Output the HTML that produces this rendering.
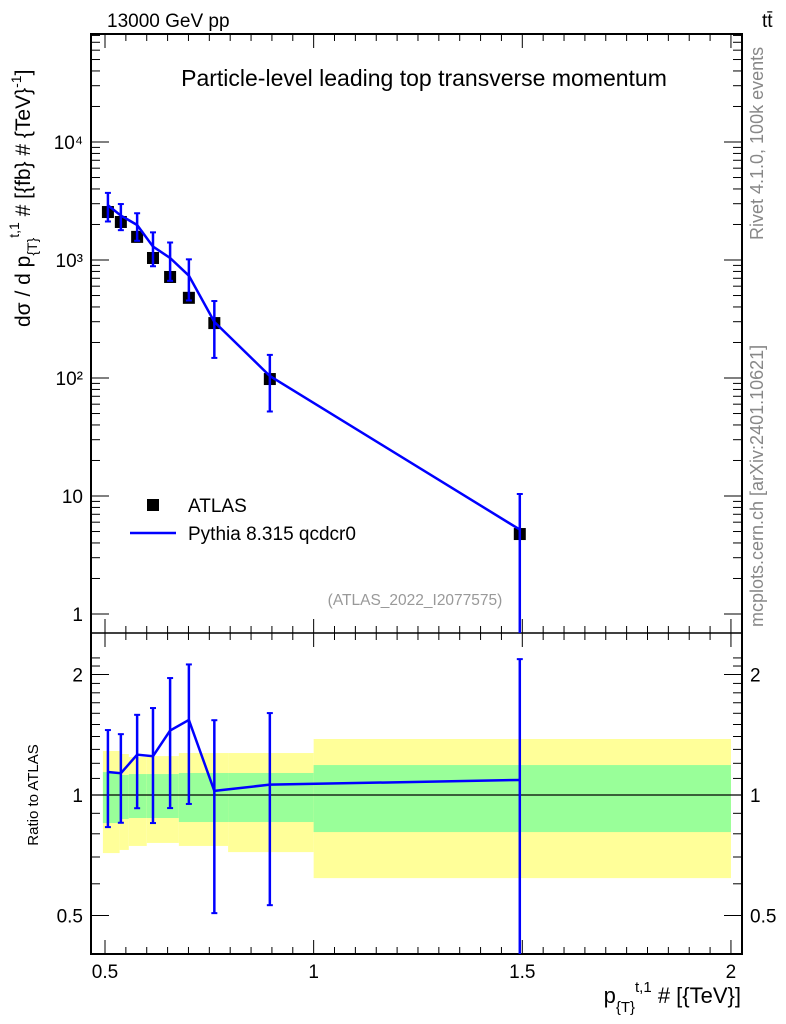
<!DOCTYPE html>
<html><head><meta charset="utf-8"><style>
body{margin:0;background:#fff;}
svg{display:block;font-family:"Liberation Sans",sans-serif;}
</style></head><body>
<svg id="chart" width="786" height="1024" viewBox="0 0 786 1024" xmlns="http://www.w3.org/2000/svg">
<g id="bands"></g>
<g id="axes"></g>
<g id="series"></g>
<text x="107" y="27" font-size="19">13000 GeV pp</text>
<text x="762" y="27" font-size="19">tt̄</text>
<text x="424" y="86" font-size="23" text-anchor="middle">Particle-level leading top transverse momentum</text>
<text transform="translate(763,240) rotate(-90)" font-size="18" fill="#888">Rivet 4.1.0,  100k events</text>
<text transform="translate(763,627) rotate(-90)" font-size="18" fill="#888">mcplots.cern.ch [arXiv:2401.10621]</text>
<text x="415" y="605" font-size="15.5" fill="#999" text-anchor="middle">(ATLAS_2022_I2077575)</text>
<text transform="translate(30,327) rotate(-90)" font-size="21" text-anchor="start">dσ / d p<tspan font-size="14" dy="7">{T}</tspan><tspan font-size="14" dy="-18">t,1</tspan><tspan dy="11"> # [{fb} # {TeV}</tspan><tspan font-size="14" dy="-9">-1</tspan><tspan dy="9">]</tspan></text>
<text transform="translate(38,795) rotate(-90)" font-size="15" text-anchor="middle">Ratio to ATLAS</text>
<text x="741" y="1003" font-size="22" text-anchor="end">p<tspan font-size="15" dy="9">{T}</tspan><tspan font-size="15" dy="-20">t,1</tspan><tspan dy="11"> # [{TeV}]</tspan></text>
<g>
<rect x="147" y="499" width="12" height="12" fill="#000"/>
<text x="188" y="512" font-size="19">ATLAS</text>
<line x1="130" y1="533" x2="176" y2="533" stroke="#0000ff" stroke-width="2.5"/>
<text x="188" y="540" font-size="19">Pythia 8.315 qcdcr0</text>
</g>
</svg>
<script>
const xCenters=[0.507,0.538,0.577,0.615,0.656,0.701,0.762,0.895,1.494];
const atlasVals=[2550,2100,1570,1040,718,478,292,98,4.76];
const mcVals=[2910,2380,1980,1300,1040,736,299,104,5.19];
const mcUp=[3705,2980,2490,1715,1407,1013,449,157,10.4];
const mcDown=[2120,1790,1455,885,666,454,148,52,0.0001];
const bandEdges=[0.495,0.535,0.557,0.6,0.677,0.795,1.0,2.0];
const yellowHi=[1.288,1.266,1.244,1.251,1.273,1.273,1.38];
const yellowLo=[0.716,0.729,0.746,0.759,0.746,0.72,0.62];
const greenHi=[1.141,1.122,1.128,1.128,1.135,1.135,1.188];
const greenLo=[0.851,0.871,0.876,0.876,0.856,0.856,0.808];
const xTicks=[0.5,1,1.5,2];
const yTicks=[1,10,100,1000,10000];
const yTickLabels=["1","10","10²","10³","10⁴"];
const rTicks=[0.5,1,2];

const L=91,R=742,T=34,M=633,B=954;
const X=v=>105+(v-0.5)*417.3;
const Y=v=>142+(4-Math.log10(v))*118;
const RY=r=>795-Math.log2(r)*120.5;
const NS="http://www.w3.org/2000/svg";
function mk(tag,attrs,parent){const e=document.createElementNS(NS,tag);for(const k in attrs)e.setAttribute(k,attrs[k]);document.getElementById(parent).appendChild(e);return e;}
const clampT=y=>Math.max(T,Math.min(M,y));
const clampR=y=>Math.max(M,Math.min(B,y));

for(let i=0;i<bandEdges.length-1;i++){
  const x1=X(bandEdges[i]),x2=X(bandEdges[i+1]);
  let e=mk('rect',{x:x1,y:RY(yellowHi[i]),width:x2-x1,height:RY(yellowLo[i])-RY(yellowHi[i]),fill:'#ffff99'},'bands');
  
  
  e=mk('rect',{x:x1,y:RY(greenHi[i]),width:x2-x1,height:RY(greenLo[i])-RY(greenHi[i]),fill:'#99ff99'},'bands');
  
  
}
let f=mk('rect',{x:L,y:T,width:R-L,height:B-T,fill:'none',stroke:'#000','stroke-width':2},'axes');


f=mk('line',{x1:L,y1:M,x2:R,y2:M,stroke:'#000','stroke-width':1.5},'axes');


f=mk('line',{x1:L,y1:RY(1),x2:R,y2:RY(1),stroke:'#000','stroke-width':1.2},'axes');


for(let v=0.45;v<=2.051;v+=0.05){
  const x=X(v);if(x<L||x>R)continue;
  const major=Math.abs(v*2-Math.round(v*2))<1e-6;const len=major?14:7;
  [[T,1],[M,-1],[M,1],[B,-1]].forEach(([y0,d])=>{
    const t=mk('line',{x1:x,y1:y0,x2:x,y2:y0+d*len,stroke:'#000','stroke-width':1},'axes');
    
    
  });
}
xTicks.forEach(v=>{
  const t=mk('text',{x:X(v),y:978,'font-size':19,'text-anchor':'middle'},'axes');t.textContent=String(v);
  
  
});
for(let d=0;d<5;d++)for(let m=1;m<10;m++){
  const v=m*Math.pow(10,d);const y=Y(v);if(y<T||y>M)continue;const len=m==1?18:9;
  [[L,1],[R,-1]].forEach(([x0,s])=>{
    const t=mk('line',{x1:x0,y1:y,x2:x0+s*len,y2:y,stroke:'#000','stroke-width':1},'axes');
    
    
  });
}
yTicks.forEach((v,i)=>{
  const t=mk('text',{x:83,y:Y(v)+7,'font-size':19,'text-anchor':'end'},'axes');t.textContent=yTickLabels[i];
  
  
});
const rMinor=[0.4,0.5,0.6,0.7,0.8,0.9,1,1.1,1.2,1.3,1.4,1.5,1.6,1.7,1.8,1.9,2,2.1,2.2];
rMinor.forEach(r=>{
  const y=RY(r);if(y<M||y>B)return;const major=rTicks.includes(r);const len=major?18:9;
  [[L,1],[R,-1]].forEach(([x0,s])=>{
    const t=mk('line',{x1:x0,y1:y,x2:x0+s*len,y2:y,stroke:'#000','stroke-width':1},'axes');
    
    
  });
});
rTicks.forEach(r=>{
  [[83,'end'],[750,'start']].forEach(([x,a])=>{
    const t=mk('text',{x:x,y:RY(r)+7,'font-size':19,'text-anchor':a},'axes');t.textContent=String(r);
    
    
  });
});
xCenters.forEach((xv,i)=>{
  const p=mk('rect',{x:X(xv)-6,y:Y(atlasVals[i])-6,width:12,height:12,fill:'#000'},'series');
  
  
});
let pts=xCenters.map((xv,i)=>X(xv)+','+Y(mcVals[i])).join(' ');
let pl=mk('polyline',{points:pts,fill:'none',stroke:'#0000ff','stroke-width':2.5},'series');


let rp=xCenters.map((xv,i)=>X(xv)+','+RY(mcVals[i]/atlasVals[i])).join(' ');
pl=mk('polyline',{points:rp,fill:'none',stroke:'#0000ff','stroke-width':2.5},'series');


xCenters.forEach((xv,i)=>{
  const x=X(xv);
  const segs=[[clampT(Y(mcUp[i])),clampT(Y(mcDown[i])),'pythia-error-bar'],[clampR(RY(mcUp[i]/atlasVals[i])),clampR(RY(mcDown[i]/atlasVals[i])),'pythia-ratio-error-bar']];
  segs.forEach(([y1,y2,nm])=>{
    const l=mk('line',{x1:x,y1:y1,x2:x,y2:y2,stroke:'#0000ff','stroke-width':2.5},'series');
    
    
    [y1,y2].forEach(y=>{if(y===T||y===M||y===B)return;
      const c=mk('line',{x1:x-3,y1:y,x2:x+3,y2:y,stroke:'#0000ff','stroke-width':2},'series');
      
      
    });
  });
});
</script>
</body></html>
